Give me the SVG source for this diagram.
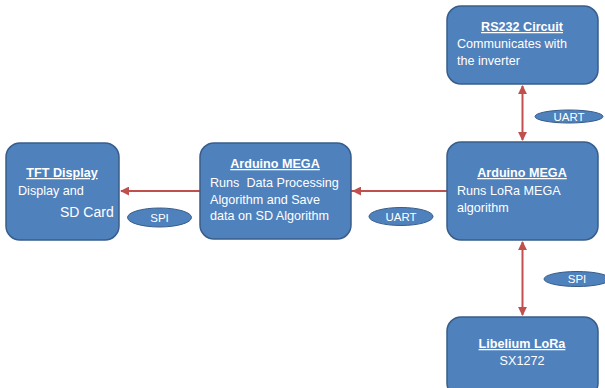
<svg xmlns="http://www.w3.org/2000/svg" width="605" height="388" viewBox="0 0 605 388">
<defs>
<style>
.box{fill:#4F81BD;stroke:#385D8A;stroke-width:1.5}
.t{font-family:"Liberation Sans",Arial,sans-serif;font-size:12.6px;fill:#fff}
.h{font-weight:bold;text-decoration:underline;text-anchor:middle}
.c{text-anchor:middle}
.con{stroke:#C0504D;stroke-width:2;fill:none}
.lbl{fill:#4F81BD;stroke:#385D8A;stroke-width:1}
.lt{font-family:"Liberation Sans",Arial,sans-serif;font-size:11.5px;fill:#fff;text-anchor:middle}
</style>
<marker id="ah" viewBox="0 0 10 10" refX="9" refY="5" markerWidth="4.5" markerHeight="4.5" orient="auto-start-reverse">
<path d="M0,0 L10,5 L0,10 z" fill="#C0504D"/>
</marker>
</defs>
<rect width="605" height="388" fill="#fff"/>
<g id="connectors">
<line class="con" x1="447" y1="191" x2="121" y2="191" marker-end="url(#ah)"/>
<line class="con" x1="447" y1="191" x2="353" y2="191" marker-end="url(#ah)"/>
<line class="con" x1="522.5" y1="86" x2="522.5" y2="140" marker-start="url(#ah)" marker-end="url(#ah)"/>
<line class="con" x1="522.5" y1="242" x2="522.5" y2="315" marker-start="url(#ah)" marker-end="url(#ah)"/>
</g>
<g id="tft">
<rect class="box" x="6" y="143" width="113" height="97" rx="14"/>
<text class="t h" x="62" y="177">TFT Display</text>
<text class="t" x="18" y="195">Display and</text>
<text class="t" x="60" y="217" style="font-size:14px">SD Card</text>
</g>
<g id="mega1">
<rect class="box" x="200" y="143" width="151" height="96" rx="14"/>
<text class="t h" x="275" y="168">Arduino MEGA</text>
<text class="t" x="210" y="187" xml:space="preserve">Runs  Data Processing</text>
<text class="t" x="210" y="204">Algorithm and Save</text>
<text class="t" x="210" y="220">data on SD Algorithm</text>
</g>
<g id="rs232">
<rect class="box" x="447" y="6" width="151" height="78" rx="14"/>
<text class="t h" x="522" y="31">RS232 Circuit</text>
<text class="t" x="457" y="48">Communicates with</text>
<text class="t" x="457" y="65">the inverter</text>
</g>
<g id="mega2">
<rect class="box" x="447" y="142" width="151" height="98" rx="14"/>
<text class="t h" x="522" y="177">Arduino MEGA</text>
<text class="t" x="457" y="195">Runs LoRa MEGA</text>
<text class="t" x="457" y="212">algorithm</text>
</g>
<g id="lora">
<rect class="box" x="447" y="317" width="151" height="80" rx="14"/>
<text class="t h" x="522" y="348">Libelium LoRa</text>
<text class="t c" x="522" y="365">SX1272</text>
</g>
<g id="lbl-spi1">
<ellipse class="lbl" cx="159.5" cy="217.5" rx="32" ry="9.5"/>
<text class="lt" x="159.5" y="221.5">SPI</text>
</g>
<g id="lbl-uart1">
<ellipse class="lbl" cx="401" cy="216.5" rx="32" ry="9"/>
<text class="lt" x="401" y="220.5">UART</text>
</g>
<g id="lbl-uart2">
<ellipse class="lbl" cx="569" cy="116.5" rx="34" ry="6.5"/>
<text class="lt" x="569" y="120.5">UART</text>
</g>
<g id="lbl-spi2">
<ellipse class="lbl" cx="577" cy="279" rx="33" ry="7.5"/>
<text class="lt" x="577" y="283">SPI</text>
</g>
</svg>
